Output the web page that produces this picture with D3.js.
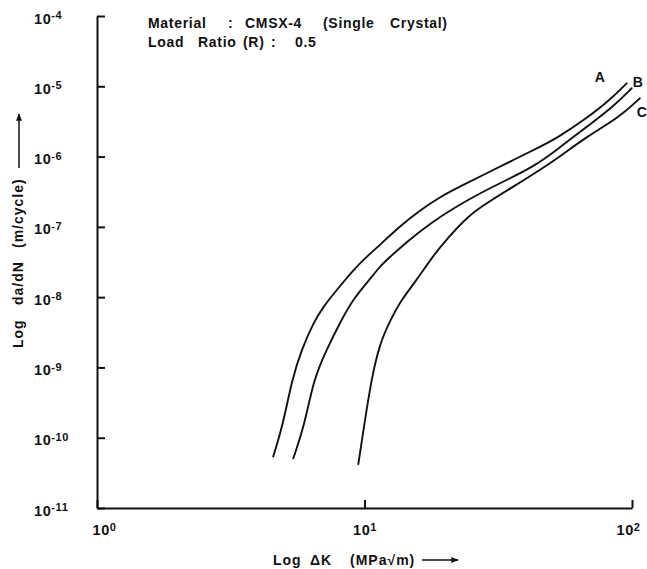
<!DOCTYPE html>
<html>
<head>
<meta charset="utf-8">
<script src="https://cdn.jsdelivr.net/npm/d3@7"></script>
<style>
  body { margin: 0; background: #fff; }
  svg { display: block; }
  text { font-family: "Liberation Sans", Arial, Helvetica, sans-serif; font-weight: bold; fill: #111; }
</style>
</head>
<body>
<div id="chart"></div>
<script>
// values (delta K in MPa*sqrt(m), da/dN in m/cycle)
var curveNames = ["A", "B", "C"];

var kA = [4.56, 4.97, 5.35, 5.82, 6.44, 7.01, 7.87, 9.08, 10.2, 11.4, 13.6, 16.1, 19.2, 23.4, 28.6, 36.0, 45.3, 52.3, 67.7, 82.7, 95.5];
var daA = [5.4e-11, 1.6e-10, 6.6e-10, 1.8e-9, 4.3e-9, 7.3e-9, 1.26e-8, 2.44e-8, 3.77e-8, 5.5e-8, 1.03e-7, 1.71e-7, 2.69e-7, 3.95e-7, 5.78e-7, 8.95e-7, 1.38e-6, 1.82e-6, 3.51e-6, 6.38e-6, 1.10e-5];

var kB = [5.42, 5.99, 6.44, 7.22, 8.09, 9.02, 10.2, 11.4, 12.1, 14.4, 17.6, 21.5, 27.0, 34.0, 42.8, 52.3, 67.7, 85.1, 99.7];
var daB = [5.1e-11, 1.6e-10, 6.6e-10, 1.8e-9, 4.3e-9, 9.1e-9, 1.58e-8, 2.72e-8, 3.38e-8, 6.16e-8, 1.12e-7, 1.84e-7, 3.01e-7, 4.65e-7, 7.18e-7, 1.24e-6, 2.66e-6, 5.13e-6, 9.38e-6];

var kC = [9.48, 10.0, 10.6, 11.4, 12.5, 13.7, 15.7, 17.9, 20.5, 24.4, 28.6, 36.0, 45.3, 53.8, 67.7, 90.2, 107];
var daC = [4.2e-11, 1.6e-10, 6.6e-10, 2.2e-9, 4.7e-9, 9.1e-9, 1.76e-8, 3.73e-8, 6.95e-8, 1.43e-7, 2.17e-7, 3.73e-7, 6.44e-7, 1.0e-6, 1.92e-6, 3.7e-6, 6.75e-6];

var xTicks = [1, 10, 100];
var yTicks = [1e-11, 1e-10, 1e-9, 1e-8, 1e-7, 1e-6, 1e-5, 1e-4];

var width = 647, height = 569;

var svg = d3.select("#chart").append("svg")
    .attr("width", width)
    .attr("height", height)
    .style("background", "#fff");

var x = d3.scaleLog().domain([1, 100]).range([97, 632]);
var y = d3.scaleLog().domain([1e-11, 1e-4]).range([508, 16]);

// y axis, ticks point inward
var gy = svg.append("g")
    .attr("transform", "translate(" + x(1) + ",0)")
    .call(d3.axisLeft(y).tickValues(yTicks).tickSize(-8).tickSizeOuter(0));

// x axis, ticks point up
var gx = svg.append("g")
    .attr("transform", "translate(0," + y(1e-11) + ")")
    .call(d3.axisBottom(x).tickValues(xTicks).tickSize(-8).tickSizeOuter(0));

[gx, gy].forEach(function(g) {
  g.select(".domain").attr("stroke", "#111").attr("stroke-width", 2);
  g.selectAll(".tick line").attr("stroke", "#111").attr("stroke-width", 2);
});

// power-of-ten labels with superscripts
function powerLabel(sel) {
  sel.each(function(d) {
    var t = d3.select(this).text(null);
    t.append("tspan").text("10");
    t.append("tspan")
      .attr("dy", "-0.4em")
      .attr("font-size", "11px")
      .text(Math.round(Math.log10(d)));
  });
}

gy.selectAll(".tick text")
    .attr("x", -63)
    .attr("y", 7)
    .attr("dy", 0)
    .attr("text-anchor", "start")
    .attr("font-size", "14.5px")
    .style("letter-spacing", "0.6px")
    .call(powerLabel);

gx.selectAll(".tick text")
    .attr("y", 27)
    .attr("dy", 0)
    .attr("dx", function(d, i) { return i === 0 ? 7 : (i === 2 ? -4 : 0); })
    .attr("font-size", "14.5px")
    .style("letter-spacing", "0.6px")
    .call(powerLabel);

// curves
var series = [
  {name: curveNames[0], k: kA, da: daA, dx: -32, dy: -1},
  {name: curveNames[1], k: kB, da: daB, dx: 1, dy: -1},
  {name: curveNames[2], k: kC, da: daC, dx: -3, dy: 19}
];

var line = d3.line()
    .x(function(d) { return x(d[0]); })
    .y(function(d) { return y(d[1]); })
    .curve(d3.curveBasis);

series.forEach(function(s) {
  var pts = s.k.map(function(k, i) { return [k, s.da[i]]; });
  svg.append("path")
      .datum(pts)
      .attr("fill", "none")
      .attr("stroke", "#111")
      .attr("stroke-width", 1.9)
      .attr("stroke-linecap", "round")
      .attr("d", line);
  var last = pts[pts.length - 1];
  svg.append("text")
      .attr("x", x(last[0]) + s.dx)
      .attr("y", y(last[1]) + s.dy)
      .attr("font-size", "14px")
      .text(s.name);
});

// annotation block
var note = svg.append("g")
    .attr("font-size", "14px")
    .style("letter-spacing", "0.7px");
var line1 = note.append("text").attr("y", 28);
[["Material", 148], [":", 228], ["CMSX-4", 245], ["(Single", 323], ["Crystal)", 390]].forEach(function(p) {
  line1.append("tspan").attr("x", p[1]).text(p[0]);
});
var line2 = note.append("text").attr("y", 47);
[["Load", 148], ["Ratio", 198], ["(R)", 243], [":", 271], ["0.5", 295]].forEach(function(p) {
  line2.append("tspan").attr("x", p[1]).text(p[0]);
});

// arrow heads
var defs = svg.append("defs");
defs.append("marker")
    .attr("id", "arr")
    .attr("viewBox", "0 0 10 10")
    .attr("refX", 9).attr("refY", 5)
    .attr("markerWidth", 5).attr("markerHeight", 5)
    .attr("markerUnits", "strokeWidth")
    .attr("orient", "auto")
  .append("path")
    .attr("d", "M0,1 L10,5 L0,9 Z")
    .attr("fill", "#111");

// x title
var xt = svg.append("text")
    .attr("y", 565)
    .attr("font-size", "14px")
    .style("letter-spacing", "1px");
[["Log", 273], ["\u0394K", 310], ["(MPa\u221Am)", 350]].forEach(function(p) {
  xt.append("tspan").attr("x", p[1]).text(p[0]);
});
svg.append("line")
    .attr("x1", 422).attr("y1", 560).attr("x2", 458).attr("y2", 560)
    .attr("stroke", "#111").attr("stroke-width", 1.5)
    .attr("marker-end", "url(#arr)");

// y title (rotated)
var yt = svg.append("text")
    .attr("transform", "translate(23,348) rotate(-90)")
    .attr("font-size", "14px")
    .style("letter-spacing", "1px");
[["Log", 0], ["da/dN", 43], ["(m/cycle)", 100]].forEach(function(p) {
  yt.append("tspan").attr("x", p[1]).text(p[0]);
});
svg.append("line")
    .attr("x1", 19).attr("y1", 168).attr("x2", 19).attr("y2", 114)
    .attr("stroke", "#111").attr("stroke-width", 1.5)
    .attr("marker-end", "url(#arr)");
</script>
</body>
</html>
